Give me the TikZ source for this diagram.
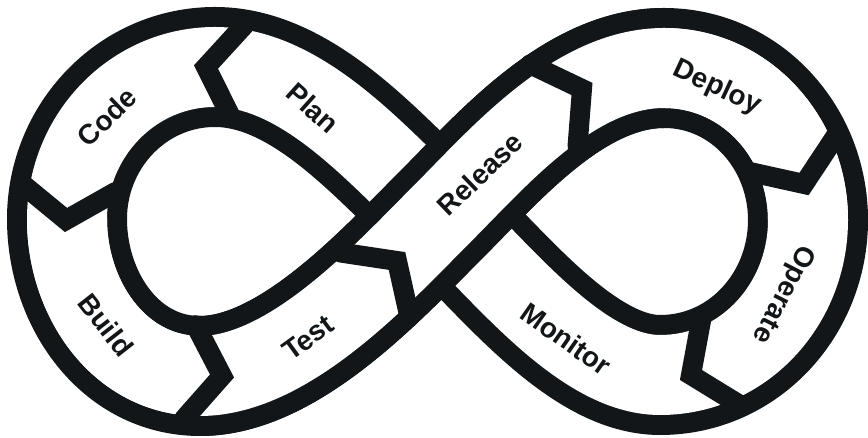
\documentclass[tikz,border=0pt]{standalone}
\usepackage{fontspec}
\setmainfont{Liberation Sans}
\definecolor{loopink}{HTML}{131618}
\tikzset{x=1pt, y=1pt,
  band edge/.style={draw=loopink, line width=120pt},
  band fill/.style={draw=white, line width=80pt},
  cut mark/.style={anchor=east, rectangle, inner sep=0pt,
        minimum width=32pt, minimum height=94pt},
  cut line/.style={draw=loopink, line width=20pt, line cap=round, line join=miter},
  stage name/.style={text=loopink, font=\bfseries\fontsize{28}{28}\selectfont}
}
\begin{document}
\begin{tikzpicture}
\useasboundingbox (0,0) rectangle (868,438);
% crossing point and the turning points of the two loops
\coordinate (C) at (441,223);
\coordinate (LT) at (215,371);
\coordinate (LL) at (67,219);
\coordinate (LB) at (200,62);
\coordinate (RT) at (664,370);
\coordinate (RR) at (808,218);
\coordinate (RB) at (660,63);
\def\Release{(LB) .. controls (290,62) and (384,166) .. (C) .. controls (498,280) and (574,370) .. (RT)}
\def\Loop{(C) .. controls (498,280) and (574,370) .. (RT) to[out=0,in=90] (RR)
  to[out=-90,in=0] (RB) .. controls (580,63) and (500,169) .. (C)
  .. controls (382,277) and (305,371) .. (LT) to[out=180,in=90] (LL)
  to[out=-90,in=180] (LB) .. controls (290,62) and (384,166) .. (C)}
\draw[band edge] \Loop;
\draw[band fill] \Loop;
% release goes over the crossing
\draw[band edge] \Release;
\draw[band fill] (LL) to[out=-90,in=180] (LB) .. controls (290,62) and (384,166) .. (C)
  .. controls (498,280) and (574,370) .. (RT) to[out=0,in=90] (RR);
% cuts between the stages, pointing the way round
\node[cut mark, rotate=172] (plancode) at (206,371) {};
\node[cut mark, rotate=-95] (codebuild) at (66,218) {};
\node[cut mark, rotate=-7] (buildtest) at (222,62) {};
\node[cut mark, rotate=47] (testrelease) at (397,177) {};
\node[cut mark, rotate=30] (releasedeploy) at (582,349) {};
\node[cut mark, rotate=-68] (deployoperate) at (804,254) {};
\node[cut mark, rotate=-156] (operatemonitor) at (691,63) {};
\foreach \c in {plancode,codebuild,buildtest,testrelease,releasedeploy,deployoperate,operatemonitor}
  \draw[cut line] (\c.north west) -- (\c.east) -- (\c.south west);
% stage names
\node[stage name, rotate=44] (code) at (107,321) {Code};
\node[stage name, rotate=-42] (plan) at (313,330) {Plan};
\node[stage name, rotate=44] (release) at (480,264) {Release};
\node[stage name, rotate=-25] (deploy) at (717,350) {Deploy};
\node[stage name, rotate=-117] (operate) at (783,144) {Operate};
\node[stage name, rotate=-35] (monitor) at (566,99) {Monitor};
\node[stage name, rotate=36] (test) at (308,100) {Test};
\node[stage name, rotate=-52] (build) at (106,113) {Build};
\end{tikzpicture}
\end{document}
